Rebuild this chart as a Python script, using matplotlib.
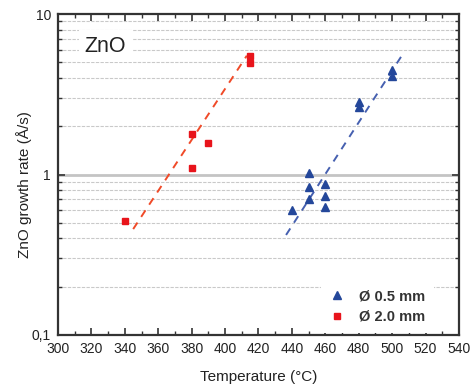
import numpy as np
import matplotlib
matplotlib.use('Agg')
import matplotlib.pyplot as plt
from matplotlib.ticker import FixedLocator, FixedFormatter, NullFormatter

plt.rcParams['font.family'] = ['Liberation Sans', 'DejaVu Sans']

# ---------------------------------------------------------------------------
# Data
# ---------------------------------------------------------------------------
RED_T = [340, 380, 380, 390, 415, 415]
RED_RATE = [0.51, 1.10, 1.79, 1.57, 4.95, 5.45]

BLUE_T = [440, 450, 450, 450, 460, 460, 460, 480, 480, 500, 500]
BLUE_RATE = [0.60, 1.02, 0.84, 0.70, 0.87, 0.73, 0.63, 2.62, 2.82, 4.10, 4.50]

# dashed fit lines (end points)
RED_FIT_T = [345, 413]
RED_FIT_RATE = [0.457, 5.5]
BLUE_FIT_T = [436.5, 505.5]
BLUE_FIT_RATE = [0.42, 5.45]

X_TICKS = list(range(300, 541, 20))
Y_TICKS = [0.1, 1, 10]
Y_TICK_LABELS = ['0,1', '1', '10']
LEGEND_LABELS = ['Ø 0.5 mm', 'Ø 2.0 mm']

RED = '#e8141b'
RED_LINE = '#f04a28'
BLUE = '#24479a'
BLUE_LINE = '#4660b0'
AX_COLOR = '#333333'

# ---------------------------------------------------------------------------
fig = plt.figure(figsize=(4.77, 3.87), dpi=100)
ax = fig.add_axes([58 / 477, 52 / 387, 401 / 477, 321 / 387])

ax.set_yscale('log')
ax.set_xlim(300, 540)
ax.set_ylim(0.1, 10)

# horizontal grid at minor decades, solid at 1
minor_vals = [m * 10.0 ** e for e in (-1, 0) for m in range(2, 10)]
for v in minor_vals:
    ax.axhline(v, color='#c9c9c9', lw=0.8, ls=(0, (3, 1.2)), zorder=0)
ax.axhline(1, color='#c4c4c4', lw=2.0, zorder=0)

# fit lines
ax.plot(RED_FIT_T, RED_FIT_RATE, color=RED_LINE, lw=1.4, ls=(0, (4, 3.5)), zorder=2)
ax.plot(BLUE_FIT_T, BLUE_FIT_RATE, color=BLUE_LINE, lw=1.4, ls=(0, (4, 3.5)), zorder=2)

# points
h_blue, = ax.plot(BLUE_T, BLUE_RATE, '^', color=BLUE, ms=5.6, mec=BLUE, ls='none', zorder=3)
h_red, = ax.plot(RED_T, RED_RATE, 's', color=RED, ms=4.7, mec=RED, ls='none', zorder=3)

# ticks
ax.xaxis.set_major_locator(FixedLocator(X_TICKS))
ax.xaxis.set_minor_locator(FixedLocator(list(range(310, 540, 20))))
ax.yaxis.set_major_locator(FixedLocator(Y_TICKS))
ax.yaxis.set_major_formatter(FixedFormatter(Y_TICK_LABELS))
ax.yaxis.set_minor_locator(FixedLocator(minor_vals))
ax.yaxis.set_minor_formatter(NullFormatter())

ax.tick_params(which='both', direction='in', top=True, right=True,
               color=AX_COLOR, labelcolor='#222222', labelsize=10)
ax.tick_params(which='major', length=5, width=1.2, pad=5)
ax.tick_params(which='minor', length=3, width=1.0)

for sp in ax.spines.values():
    sp.set_color(AX_COLOR)
    sp.set_linewidth(1.6)

ax.set_xlabel('Temperature (°C)', fontsize=11, color='#222222', labelpad=10)
ax.set_ylabel('ZnO growth rate (Å/s)', fontsize=11, color='#222222')
ax.yaxis.set_label_coords(-0.065, 0.47)

# "ZnO" label with white background breaking the grid
ax.text(0.066, 0.9, 'ZnO', transform=ax.transAxes, fontsize=15.5, color='#222222',
        ha='left', va='center',
        bbox=dict(facecolor='white', edgecolor='none', pad=4), zorder=1)

leg = ax.legend([h_blue, h_red], LEGEND_LABELS, loc='lower right',
                bbox_to_anchor=(0.955, -0.015), frameon=True, fancybox=False,
                edgecolor='none', framealpha=1.0, handlelength=1.0,
                handletextpad=1.0, labelspacing=0.45, borderpad=0.6,
                prop={'weight': 'bold', 'size': 10.5})
for t in leg.get_texts():
    t.set_color('#333333')

fig.savefig('out.png', dpi=100, facecolor='white')
